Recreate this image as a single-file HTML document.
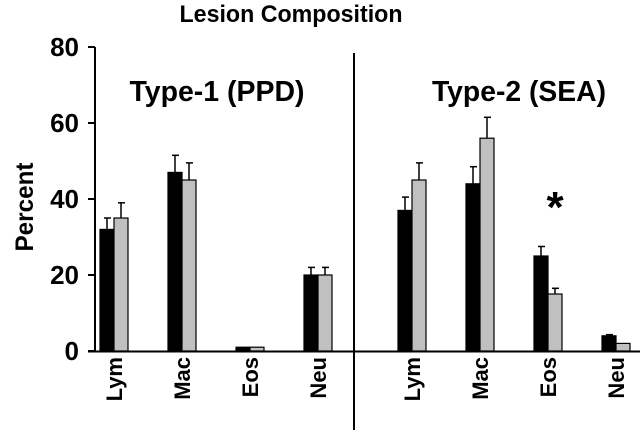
<!DOCTYPE html>
<html><head><meta charset="utf-8"><style>
body{margin:0;background:#fff}
text{font-family:"Liberation Sans",Arial,sans-serif;font-weight:bold;fill:#000}
</style></head><body>
<svg id="chart" width="640" height="434" viewBox="0 0 640 434" xmlns="http://www.w3.org/2000/svg">
<text x="291" y="22" font-size="24" text-anchor="middle" textLength="223" lengthAdjust="spacingAndGlyphs">Lesion Composition</text>
<text transform="translate(33,207) rotate(-90)" font-size="25" text-anchor="middle" textLength="89" lengthAdjust="spacingAndGlyphs">Percent</text>
<text x="217" y="101" font-size="29" text-anchor="middle" textLength="175" lengthAdjust="spacingAndGlyphs">Type-1 (PPD)</text>
<text x="519" y="101" font-size="29" text-anchor="middle" textLength="174" lengthAdjust="spacingAndGlyphs">Type-2 (SEA)</text>
<line x1="95" y1="47" x2="95" y2="352" stroke="#000" stroke-width="2"/>
<line x1="88" y1="351.5" x2="640" y2="351.5" stroke="#000" stroke-width="2"/>
<line x1="354" y1="53" x2="354" y2="430" stroke="#000" stroke-width="2"/>
<text x="555" y="222" font-size="44" text-anchor="middle">*</text>
<g id="marks"></g>
</svg>
<script>
const categories = ["Lym","Mac","Eos","Neu"];
const yTicks = [0,20,40,60,80];
const panel1Black = [32,47,1,20];
const panel1BlackErr = [3,4.5,0,2];
const panel1Gray = [35,45,1,20];
const panel1GrayErr = [4,4.5,0,2];
const panel2Black = [37,44,25,4];
const panel2BlackErr = [3.5,4.5,2.5,0.3];
const panel2Gray = [45,56,15,2];
const panel2GrayErr = [4.5,5.5,1.5,0];

const NS="http://www.w3.org/2000/svg";
const svg=document.getElementById('chart');
const g=document.getElementById('marks');
const y0=351, yTop=47, yMax=80;
function yScale(v){return y0-(v/yMax)*(y0-yTop);}
const panelStarts=[100,398];
const groupStep=68, barW=14;
function xBar(panel,i,s){return panelStarts[panel]+i*groupStep+s*barW;}
function el(tag,attrs){const e=document.createElementNS(NS,tag);for(const k in attrs)e.setAttribute(k,attrs[k]);return e;}

yTicks.forEach(t=>{
  const y=yScale(t);
  const tk=el('line',{x1:88,y1:y,x2:95,y2:y,stroke:'#000','stroke-width':2});
  
  
  svg.appendChild(tk);
  const lb=el('text',{x:79,y:y+9,'font-size':26,'text-anchor':'end'});
  
  
  lb.textContent=t;
  svg.appendChild(lb);
});

const series=[
  [panel1Black,panel1BlackErr,panel1Gray,panel1GrayErr],
  [panel2Black,panel2BlackErr,panel2Gray,panel2GrayErr]
];
series.forEach((p,pi)=>{
  categories.forEach((c,i)=>{
    [[p[0],p[1],'#000'],[p[2],p[3],'#c0c0c0']].forEach((sd,s)=>{
      const v=sd[0][i], e=sd[1][i];
      const x=xBar(pi,i,s);
      const yv=yScale(v), ye=yScale(v+e);
      const cx=x+barW/2;
      if(e>0){
        const ln=el('line',{x1:cx,y1:yv,x2:cx,y2:ye,stroke:'#000','stroke-width':1.5});
        
        
        g.appendChild(ln);
        const cap=el('line',{x1:cx-3,y1:ye,x2:cx+4,y2:ye,stroke:'#000','stroke-width':1.5});
        
        
        g.appendChild(cap);
      }
      const r=el('rect',{x:x,y:yv,width:barW,height:y0-yv,fill:sd[2],stroke:'#000','stroke-width':1.2});
      
      
      g.appendChild(r);
    });
    const lx=xBar(pi,i,1)+1;
    const t=el('text',{transform:'translate('+(lx+7)+',357) rotate(-90)','font-size':22,'text-anchor':'end'});
    
    
    t.textContent=c;
    svg.appendChild(t);
  });
});
</script>
</body></html>
